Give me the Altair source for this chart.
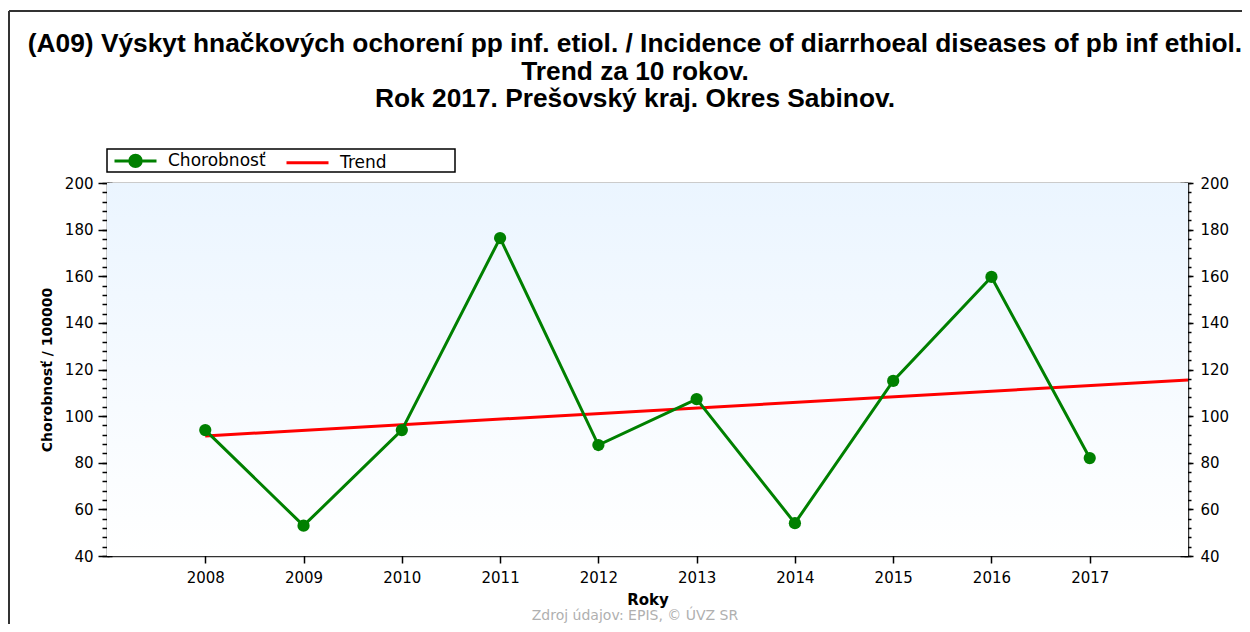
import altair as alt
import pandas as pd

# ---- data ----
years = [2008, 2009, 2010, 2011, 2012, 2013, 2014, 2015, 2016, 2017]
incidence = [94.0, 53.0, 94.0, 176.4, 87.6, 107.3, 54.1, 115.1, 159.7, 82.0]
trend_years = [2008, 2018]
trend_values = [91.5, 115.5]
series_names = ["Chorobnosť", "Trend"]
y_major = [40, 60, 80, 100, 120, 140, 160, 180, 200]
y_minor = list(range(40, 201, 4))

title_lines = [
    "(A09) Výskyt hnačkových ochorení pp inf. etiol. / Incidence of diarrhoeal diseases of pb inf ethiol.",
    "Trend za 10 rokov.",
    "Rok 2017. Prešovský kraj. Okres Sabinov.",
]
source_note = "Zdroj údajov: EPIS, © ÚVZ SR"

rows = [{"series": series_names[0], "year": y, "value": v} for y, v in zip(years, incidence)]
rows += [{"series": series_names[1], "year": y, "value": v} for y, v in zip(trend_years, trend_values)]
df = pd.DataFrame(rows)

W, H = 1081, 373
FONT = "DejaVu Sans"
GREEN = "#008000"
RED = "#ff0000"

xscale = alt.Scale(domain=[2007, 2018], nice=False, zero=False)
yscale = alt.Scale(domain=[40, 200], nice=False, zero=False)

stroke_scale = alt.Scale(domain=series_names, range=[GREEN, RED])
fill_scale = alt.Scale(domain=series_names, range=[GREEN, "transparent"])
# symbol size 144 -> unit = 6 px; paths reach +-3.5 units = 42 px wide
shape_scale = alt.Scale(
    domain=series_names,
    range=[
        "M-3.5,0L3.5,0M-0.95,0A0.95,0.95,0,1,1,0.95,0A0.95,0.95,0,1,1,-0.95,0Z",
        "M-3.5,0L3.5,0",
    ],
)

legend = alt.Legend(
    title=None,
    orient="none",
    legendX=0,
    legendY=-34,
    direction="horizontal",
    symbolSize=144,
    symbolStrokeWidth=3,
    symbolOffset=17,
    labelFont=FONT,
    labelFontSize=17,
    labelColor="#000000",
    labelOffset=24,
    columnPadding=14,
    padding=3,
    strokeColor="transparent",
    fillColor="transparent",
)

base = alt.Chart(df)
empty = base.transform_filter("false")
one = alt.Data(values=[{"a": 1}])

label_style = dict(labelFont=FONT, labelFontSize=15, labelColor="#000000")
tick_style = dict(tickColor="#000000", tickWidth=1.5)
dom_style = dict(domainColor="#333333", domainWidth=1.5)

def xq(axis):
    return alt.X("year:Q", scale=xscale, axis=axis)

def yq(axis):
    return alt.Y("value:Q", scale=yscale, axis=axis)

# background gradient for the plot area
bg = alt.Chart(one).mark_rect(
    fill=alt.Gradient(
        gradient="linear",
        stops=[alt.GradientStop(color="#ebf5ff", offset=0), alt.GradientStop(color="#ffffff", offset=1)],
        x1=0, x2=0, y1=0, y2=1,
    )
).encode(x=alt.value(0), x2=alt.value(W), y=alt.value(0), y2=alt.value(H))

# legend box
legend_box = alt.Chart(one).mark_rect(fill="#ffffff", stroke="#000000", strokeWidth=1.5).encode(
    x=alt.value(0), x2=alt.value(348), y=alt.value(-34), y2=alt.value(-11))

# outer frame of the picture (left and top edges)
frame_top = alt.Chart(one).mark_rule(stroke="#333333", strokeWidth=2).encode(
    x=alt.value(-98), x2=alt.value(W + 54), y=alt.value(-172))
frame_left = alt.Chart(one).mark_rule(stroke="#333333", strokeWidth=2).encode(
    x=alt.value(-98), y=alt.value(-172), y2=alt.value(H + 68))

# title as a text block
title = alt.Chart(one).mark_text(
    font="Liberation Sans", fontSize=26.3, fontWeight="bold", color="#000000",
    align="center", baseline="top", lineBreak="\n", lineHeight=27.5,
).encode(x=alt.value(528), y=alt.value(-152), text=alt.value("\n".join(title_lines)))

# axes layers
axA = empty.mark_point(opacity=0).encode(
    x=xq(alt.Axis(orient="bottom", values=years, format="d", ticks=False, tickSize=0, labelPadding=14,
                  grid=False, title="Roky", titleFont=FONT, titleFontSize=15, titleFontWeight="bold",
                  titleColor="#000000", titlePadding=7, **label_style, **dom_style)),
    y=yq(alt.Axis(orient="left", values=y_major, ticks=False, tickSize=0, labelPadding=14, grid=False,
                  title="Chorobnosť / 100000", titleFont=FONT, titleFontSize=14, titleFontWeight="bold",
                  titleColor="#000000", titlePadding=10, **label_style, **dom_style)),
)
axB = empty.mark_point(opacity=0).encode(
    x=xq(alt.Axis(orient="bottom", values=years, labels=False, domain=False, grid=False, title=None,
                  offset=-6, tickSize=13, **tick_style)),
    y=yq(alt.Axis(orient="left", values=y_major, labels=False, domain=False, grid=False, title=None,
                  offset=-5, tickSize=14, **tick_style)),
)
axC = empty.mark_point(opacity=0).encode(
    x=xq(alt.Axis(orient="top", values=years, labels=False, domain=False, grid=False, title=None,
                  offset=-7, tickSize=7, **tick_style)),
    y=yq(alt.Axis(orient="left", values=y_minor, labels=False, domain=False, grid=False, title=None,
                  offset=-2, tickSize=7, **tick_style)),
)
axD = empty.mark_point(opacity=0).encode(
    x=xq(alt.Axis(orient="top", labels=False, ticks=False, grid=False, title=None, **dom_style)),
    y=yq(alt.Axis(orient="right", values=y_major, ticks=False, tickSize=0, labelPadding=12, grid=False,
                  title=None, **label_style, **dom_style)),
)
axE = empty.mark_point(opacity=0).encode(
    y=yq(alt.Axis(orient="right", values=y_major, labels=False, domain=False, grid=False, title=None,
                  offset=-8, tickSize=13, **tick_style)),
)
axF = empty.mark_point(opacity=0).encode(
    y=yq(alt.Axis(orient="right", values=y_minor, labels=False, domain=False, grid=False, title=None,
                  offset=-4, tickSize=7, **tick_style)),
)

trend = base.transform_filter(alt.datum.series == "Trend").mark_line(strokeWidth=3).encode(
    x=xq(None), y=yq(None),
    stroke=alt.Stroke("series:N", scale=stroke_scale, legend=legend),
)
inc_line = base.transform_filter(alt.datum.series == "Chorobnosť").mark_line(strokeWidth=3).encode(
    x=xq(None), y=yq(None),
    stroke=alt.Stroke("series:N", scale=stroke_scale, legend=legend),
)
inc_pts = base.transform_filter(alt.datum.series == "Chorobnosť").mark_point(
    filled=True, shape="circle", size=150, color=GREEN, opacity=1
).encode(x=xq(None), y=yq(None))

legend_helper = empty.mark_point(filled=True, opacity=1).encode(
    x=xq(None), y=yq(None),
    stroke=alt.Stroke("series:N", scale=stroke_scale, legend=legend),
    fill=alt.Fill("series:N", scale=fill_scale, legend=legend),
    shape=alt.Shape("series:N", scale=shape_scale, legend=legend),
)

note = alt.Chart(one).mark_text(
    font=FONT, fontSize=14, color="#b0b0b0", align="center", baseline="middle"
).encode(x=alt.value(528), y=alt.value(433), text=alt.value(source_note))

chart = alt.layer(
    bg, frame_top, frame_left, title, legend_box, axA, axB, axC, axD, axE, axF,
    trend, inc_line, inc_pts, legend_helper, note
).resolve_axis(x="independent", y="independent").properties(
    width=W,
    height=H,
    padding={"left": 99, "top": 175, "right": 54, "bottom": 68},
    autosize=alt.AutoSizeParams(type="none"),
).configure_view(stroke=None)

chart.save("out.html", embed_options={"renderer": "svg", "actions": False})
